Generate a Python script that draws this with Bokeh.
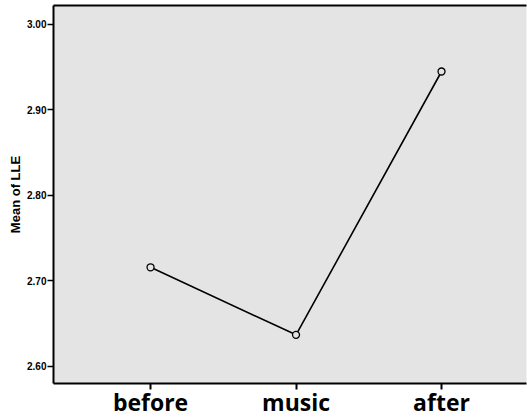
from bokeh.plotting import figure
from bokeh.models import Range1d, FixedTicker, LinearAxis, NumeralTickFormatter, ColumnDataSource
from bokeh.embed import file_html
from bokeh.resources import INLINE

# Mean LLE per phase
categories = ["before", "music", "after"]
mean_lle = [2.716, 2.637, 2.945]
y_ticks = [2.60, 2.70, 2.80, 2.90, 3.00]

xs = list(range(len(categories)))
src = ColumnDataSource(data=dict(x=xs, y=mean_lle, phase=categories))

p = figure(width=527, height=420, output_backend="svg", toolbar_location=None,
           x_range=Range1d(-0.667, 2.584), y_range=Range1d(2.5801, 3.0222),
           min_border_left=53, min_border_top=5, min_border_right=1, min_border_bottom=0)

p.background_fill_color = "#e4e4e4"
p.border_fill_color = "white"
p.outline_line_color = None
p.xgrid.visible = False
p.ygrid.visible = False

# category axis along the bottom
p.xaxis.ticker = FixedTicker(ticks=xs)
p.xaxis.major_label_overrides = {i: c for i, c in enumerate(categories)}
p.xaxis.major_label_text_font = "Open Sans"
p.xaxis.major_label_text_font_style = "bold"
p.xaxis.major_label_text_font_size = "23px"
p.xaxis.major_label_text_color = "black"
p.xaxis.major_tick_out = 6
p.xaxis.major_tick_in = 0
p.xaxis.minor_tick_line_color = None
p.xaxis.axis_line_width = 2
p.xaxis.major_tick_line_width = 2
p.xaxis.major_label_standoff = -4

# value axis on the left
p.yaxis.ticker = FixedTicker(ticks=y_ticks)
p.yaxis.formatter = NumeralTickFormatter(format="0.00")
p.yaxis.axis_label = "Mean of LLE"
p.yaxis.axis_label_text_font = "Liberation Sans"
p.yaxis.axis_label_text_font_style = "bold"
p.yaxis.axis_label_text_font_size = "13px"
p.yaxis.axis_label_text_color = "black"
p.yaxis.axis_label_standoff = 1
p.yaxis.major_label_text_font = "Liberation Sans"
p.yaxis.major_label_text_font_style = "bold"
p.yaxis.major_label_text_font_size = "10px"
p.yaxis.major_label_text_color = "black"
p.yaxis.major_tick_out = 6
p.yaxis.major_tick_in = 0
p.yaxis.minor_tick_line_color = None
p.yaxis.axis_line_width = 2
p.yaxis.major_tick_line_width = 1.5
p.yaxis.major_label_standoff = 1

# plain rule closing the top of the plot area
top = LinearAxis(ticker=FixedTicker(ticks=[]), major_label_text_font_size="0px",
                 axis_line_width=2, minor_tick_line_color=None, major_tick_line_color=None)
p.add_layout(top, "above")

p.line("x", "y", source=src, line_color="black", line_width=1.6)
p.scatter("x", "y", source=src, size=7, fill_color="#e4e4e4", line_color="black", line_width=1.3)

open("out.html", "w").write(file_html(p, INLINE))
